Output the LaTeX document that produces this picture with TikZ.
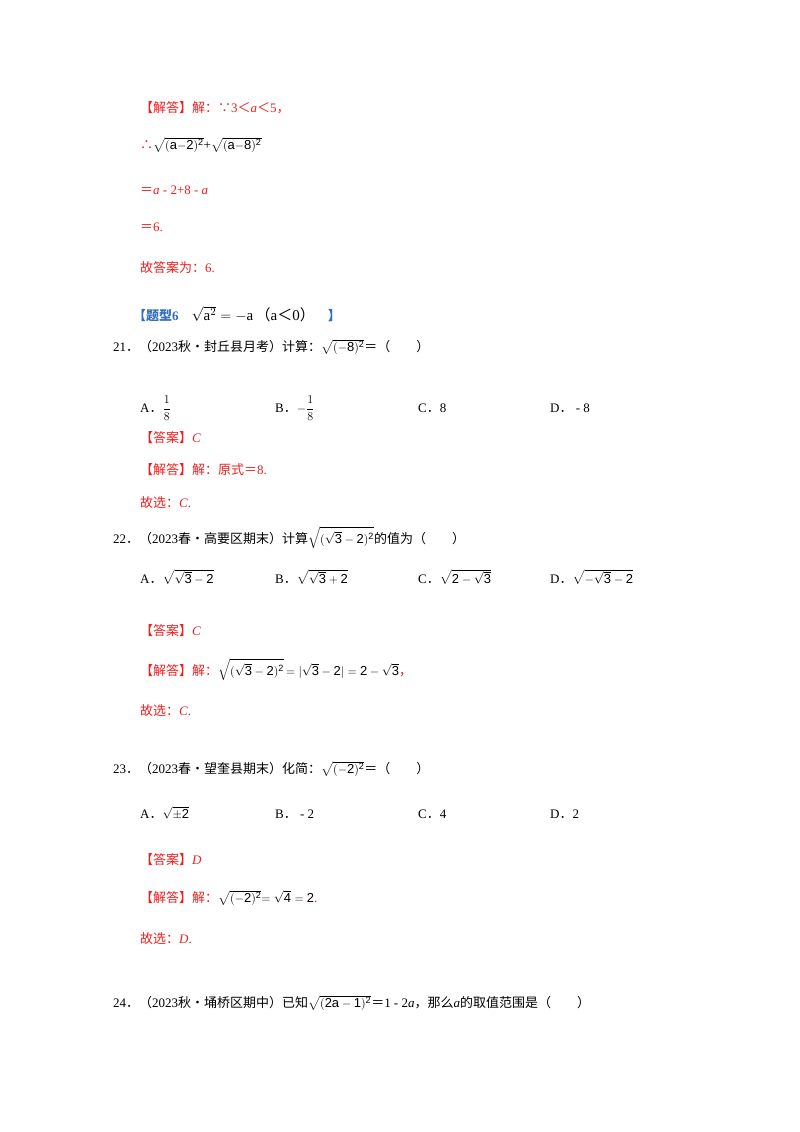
\documentclass[tikz,border=0pt]{standalone}
\usepackage{fontspec}
\usepackage{amsmath}
\setmainfont{Liberation Serif}
\setsansfont{Liberation Sans}
\newfontfamily\cj{Noto Sans CJK SC}
\definecolor{ans}{RGB}{240,30,30}
\definecolor{tblue}{RGB}{50,110,190}
\newcommand{\C}[1]{{\cj #1}}
\newcommand{\sq}[1]{\ensuremath{\sqrt{\mathsf{#1}}}}
\begin{document}
\begin{tikzpicture}[x=1pt,y=-1pt,
  t/.style={anchor=base west,inner sep=0pt,font=\fontsize{13}{15}\selectfont},
  r/.style={t,text=ans}]
\useasboundingbox (0,0) rectangle (800,1132);
\node[r] (l1) at (140,112) {\C{【解答】解：∵}3\C{＜}\textit{a}\C{＜}5\C{，}};
\node[r] (l2) at (140,149) {\C{∴}\textcolor{black}{\sq{(a{-}2)^2}+\sq{(a{-}8)^2}}};
\node[r] (l3) at (140,194) {\C{＝}\textit{a} - 2+8 - \textit{a}};
\node[r] (l4) at (140,231) {\C{＝}6.};
\node[r] (l5) at (140,272) {\C{故答案为：}6.};
\node[t,text=tblue] (h6) at (133,320) {\textbf{\C{【题型}6}\quad\textcolor{black}{\fontsize{15}{17}\selectfont$\sqrt{\mathrm{a}^{2}}=-\mathrm{a}$\,\C{（}a\C{＜}0\C{）}}\quad\textbf{\C{】}}};
\node[t] (q21) at (113,351) {21\C{．（}2023\C{秋•封丘县月考）计算：}\sq{(-8)^2}\C{＝（　　）}};
\node[t] (a21) at (140,412) {A\C{．}$\dfrac{1}{8}$};
\node[t] (b21) at (275,412) {B\C{．}$-\dfrac{1}{8}$};
\node[t] (c21) at (418,412) {C\C{．}8};
\node[t] (d21) at (550,412) {D\C{．} - 8};
\node[r] (k21) at (140,442) {\C{【答案】}\textit{C}};
\node[r] (s21) at (140,474) {\C{【解答】解：原式＝}8.};
\node[r] (g21) at (140,507) {\C{故选：}\textit{C}.};
\node[t] (q22) at (113,543) {22\C{．（}2023\C{春•高要区期末）计算}\sq{(\sqrt{3}-2)^2}\C{的值为（　　）}};
\node[t] (a22) at (140,583) {A\C{．}\sq{\sqrt{3}-2}};
\node[t] (b22) at (275,583) {B\C{．}\sq{\sqrt{3}+2}};
\node[t] (c22) at (418,583) {C\C{．}\sq{2-\sqrt{3}}};
\node[t] (d22) at (550,583) {D\C{．}\sq{-\sqrt{3}-2}};
\node[r] (k22) at (140,635) {\C{【答案】}\textit{C}};
\node[r] (s22) at (140,675) {\C{【解答】解：}\textcolor{black}{\sq{(\sqrt{3}-2)^2}$\,=|\sqrt{\mathsf{3}}-\mathsf{2}|=\mathsf{2}-\sqrt{\mathsf{3}}$}\C{，}};
\node[r] (g22) at (140,715) {\C{故选：}\textit{C}.};
\node[t] (q23) at (113,773) {23\C{．（}2023\C{春•望奎县期末）化简：}\sq{(-2)^2}\C{＝（　　）}};
\node[t] (a23) at (140,818) {A\C{．}\sq{\pm 2}};
\node[t] (b23) at (275,818) {B\C{．} - 2};
\node[t] (c23) at (418,818) {C\C{．}4};
\node[t] (d23) at (550,818) {D\C{．}2};
\node[r] (k23) at (140,864) {\C{【答案】}\textit{D}};
\node[r] (s23) at (140,902) {\C{【解答】解：}\textcolor{black}{\sq{(-2)^2}$=\sqrt{\mathsf{4}}=\mathsf{2}$}.};
\node[r] (g23) at (140,943) {\C{故选：}\textit{D}.};
\node[t] (q24) at (113,1007) {24\C{．（}2023\C{秋•埇桥区期中）已知}\sq{(2a-1)^2}\C{＝}1 - 2\textit{a}\C{，那么}\textit{a}\C{的取值范围是（　　）}};
\end{tikzpicture}
\end{document}
